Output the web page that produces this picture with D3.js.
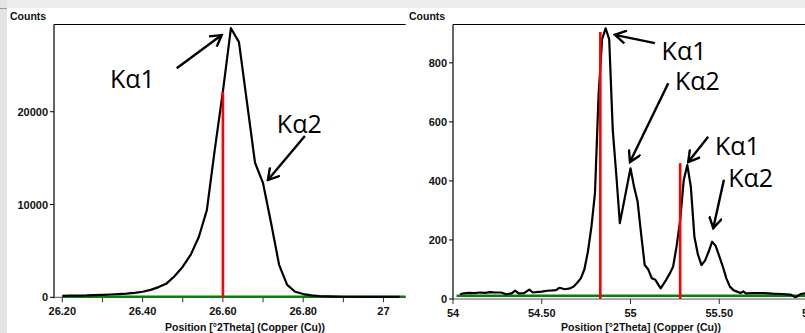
<!DOCTYPE html>
<html>
<head>
<meta charset="utf-8">
<script src="https://cdn.jsdelivr.net/npm/d3@7"></script>
<style>
  body { margin: 0; background: #fff; }
  svg { display: block; }
  .tick-label { font-family: "Liberation Sans", Arial, sans-serif; font-weight: bold; font-size: 11px; fill: #111; }
  .axis-title { font-family: "Liberation Sans", Arial, sans-serif; font-weight: bold; font-size: 10.5px; fill: #111; }
  .note { font-family: "Open Sans", "DejaVu Sans", sans-serif; font-size: 25px; fill: #000; }
</style>
</head>
<body>
<svg id="chart" width="805" height="333"></svg>
<script>
// left panel: 26.6 deg peak, [2theta, counts]
var leftPattern = [
    [26.20, 150], [26.22, 170], [26.24, 190], [26.26, 200], [26.28, 230], [26.30, 260],
    [26.32, 300], [26.34, 350], [26.36, 400], [26.38, 470], [26.40, 600], [26.42, 800],
    [26.44, 1100], [26.46, 1500], [26.48, 2300], [26.50, 3300], [26.52, 4600], [26.54, 6500],
    [26.56, 9400], [26.58, 16000], [26.60, 22200], [26.62, 29000], [26.64, 27500],
    [26.68, 14500], [26.70, 12300], [26.72, 8000], [26.74, 3500], [26.76, 1330],
    [26.78, 600], [26.80, 350], [26.82, 200], [26.84, 130], [26.86, 100], [26.88, 80],
    [26.90, 60], [26.95, 50], [27.00, 40], [27.04, 40]
];
var leftRefPos = [26.60];
var leftRefCounts = [22150];
var leftBackground = 60;
var leftTicks = [26.2, 26.3, 26.4, 26.5, 26.6, 26.7, 26.8, 26.9, 27.0];
var leftYTicks = [0, 10000, 20000];
var leftNotes = ["K\u03b11", "K\u03b12"];
var leftNoteTips = [[26.597, 28265], [26.712, 12640]];

// right panel: 54.8 / 55.3 deg doublets
var rightPattern = [
    [54.04, 16], [54.06, 19], [54.09, 21], [54.12, 20], [54.15, 22], [54.18, 21],
    [54.21, 23], [54.24, 22], [54.27, 22], [54.30, 16], [54.33, 19], [54.35, 28],
    [54.37, 19], [54.40, 20], [54.43, 32], [54.45, 22], [54.48, 24], [54.50, 25],
    [54.53, 28], [54.56, 29], [54.58, 30], [54.60, 38], [54.63, 33], [54.66, 36],
    [54.68, 42], [54.70, 55], [54.72, 70], [54.74, 100], [54.76, 160], [54.78, 245],
    [54.80, 360], [54.82, 690], [54.84, 880], [54.86, 917], [54.88, 880], [54.90, 573],
    [54.92, 420], [54.94, 257], [54.97, 350], [55.00, 443], [55.02, 380], [55.04, 330],
    [55.06, 220], [55.08, 115], [55.10, 100], [55.12, 70], [55.14, 65], [55.17, 36],
    [55.20, 64], [55.22, 85], [55.24, 109], [55.26, 180], [55.28, 268], [55.30, 403],
    [55.32, 454], [55.34, 380], [55.36, 211], [55.38, 150], [55.40, 115], [55.42, 130],
    [55.44, 160], [55.46, 194], [55.48, 180], [55.50, 145], [55.52, 110], [55.54, 70],
    [55.56, 42], [55.58, 30], [55.60, 25], [55.62, 20], [55.635, 26], [55.65, 19],
    [55.70, 20], [55.75, 20], [55.80, 18], [55.85, 17], [55.90, 15], [55.93, 6],
    [55.96, 17], [55.99, 20]
];
var rightRefPos = [54.83, 55.28];
var rightRefCounts = [905, 460];
var rightBackground = 11;
var rightTicks = [54, 54.5, 55, 55.5, 56];
var rightYTicks = [0, 200, 400, 600, 800];
var rightNotes = ["K\u03b11", "K\u03b12", "K\u03b11", "K\u03b12"];
var rightNoteTips = [[54.912, 895], [54.997, 464], [55.325, 464], [55.466, 240]];

var svg = d3.select('#chart');

// grey frame of the screenshot
svg.append('rect').attr('x', 0).attr('y', 0).attr('width', 805).attr('height', 333).attr('fill', '#fff');
svg.append('rect').attr('x', 0).attr('y', 0).attr('width', 805).attr('height', 8).attr('fill', '#ececec');
svg.append('rect').attr('x', 0).attr('y', 0).attr('width', 7).attr('height', 333).attr('fill', '#e4e4e4');
svg.append('line').attr('x1', 0).attr('x2', 7).attr('y1', 8.5).attr('y2', 8.5).attr('stroke', '#999');

var defs = svg.append('defs');
defs.append('marker')
    .attr('id', 'arrow')
    .attr('viewBox', '-12 -7 14 14')
    .attr('refX', 0).attr('refY', 0)
    .attr('markerWidth', 14).attr('markerHeight', 14)
    .attr('markerUnits', 'userSpaceOnUse')
    .attr('orient', 'auto')
    .append('path')
    .attr('d', 'M-11,-6.5 L0,0 L-11,6.5')
    .attr('fill', 'none')
    .attr('stroke', '#000')
    .attr('stroke-width', 2.4);

function tickText(d) {
    var r = Math.round(d * 100) / 100;
    return Number.isInteger(r) ? String(r) : r.toFixed(2);
}

function drawPanel(cfg) {
    var g = svg.append('g');
    var x = d3.scaleLinear().domain(cfg.xDomain).range(cfg.xRange);
    var y = d3.scaleLinear().domain(cfg.yDomain).range(cfg.yRange);
    var x0 = cfg.xRange[0], x1 = cfg.xRange[1];
    var yTop = cfg.yRange[1], yBot = cfg.yRange[0];

    g.append('text').attr('class', 'axis-title').attr('x', cfg.countsX).attr('y', 20).text('Counts');

    // frame: top + left
    g.append('line').attr('x1', x0).attr('x2', x1).attr('y1', yTop).attr('y2', yTop)
        .attr('stroke', '#000').attr('stroke-width', 1.2);
    g.append('line').attr('x1', x0).attr('x2', x0).attr('y1', yTop).attr('y2', yBot + 1)
        .attr('stroke', '#000').attr('stroke-width', 1.2);
    g.append('line').attr('x1', x0).attr('x2', x1).attr('y1', yBot).attr('y2', yBot)
        .attr('stroke', '#555').attr('stroke-width', 1);

    // y ticks
    cfg.yTicks.forEach(function (t) {
        g.append('line').attr('x1', x0 - 4).attr('x2', x0).attr('y1', y(t)).attr('y2', y(t))
            .attr('stroke', '#000');
        g.append('text').attr('class', 'tick-label').attr('x', x0 - 6).attr('y', y(t) + 4)
            .attr('text-anchor', 'end').text(t);
    });

    // x ticks
    cfg.xTicks.forEach(function (t, i) {
        g.append('line').attr('x1', x(t)).attr('x2', x(t)).attr('y1', yBot).attr('y2', yBot + 5)
            .attr('stroke', '#333');
        if (i % cfg.labelEvery === 0) {
            g.append('text').attr('class', 'tick-label').attr('x', x(t)).attr('y', yBot + 18)
                .attr('text-anchor', 'middle').text(tickText(t));
        }
    });

    g.append('text').attr('class', 'axis-title').attr('x', cfg.titleX).attr('y', 331)
        .attr('text-anchor', 'middle').text('Position [\u00b02Theta] (Copper (Cu))');

    // background (green)
    g.append('line').attr('x1', x(cfg.bgStart)).attr('x2', x1)
        .attr('y1', y(cfg.background)).attr('y2', y(cfg.background))
        .attr('stroke', '#0b7d0b').attr('stroke-width', 2.6);

    // pattern
    var line = d3.line().x(function (d) { return x(d[0]); }).y(function (d) { return y(d[1]); });
    g.append('path').datum(cfg.pattern).attr('d', line)
        .attr('fill', 'none').attr('stroke', '#000').attr('stroke-width', 2.2)
        .attr('stroke-linejoin', 'round');

    // reference sticks
    g.selectAll('.ref').data(cfg.refPos).enter().append('line')
        .attr('class', 'ref')
        .attr('x1', function (d) { return x(d); }).attr('x2', function (d) { return x(d); })
        .attr('y1', yBot).attr('y2', function (d, i) { return y(cfg.refCounts[i]); })
        .attr('stroke', '#f00').attr('stroke-width', 2.6);

    // notes with arrows
    cfg.notes.forEach(function (label, i) {
        var tx = x(cfg.noteTips[i][0]), ty = y(cfg.noteTips[i][1]);
        var o = cfg.noteOffsets[i];
        g.append('line').attr('x1', tx + o[0]).attr('y1', ty + o[1]).attr('x2', tx).attr('y2', ty)
            .attr('stroke', '#000').attr('stroke-width', 2.4).attr('marker-end', 'url(#arrow)');
        g.append('text').attr('class', 'note').attr('x', tx + o[2]).attr('y', ty + o[3]).text(label);
    });
}

drawPanel({
    xDomain: [26.1793, 27.0553], xRange: [54, 405.7],
    yDomain: [0, 29400], yRange: [297.3, 24.5],
    xTicks: leftTicks, labelEvery: 2, yTicks: leftYTicks,
    pattern: leftPattern, refPos: leftRefPos, refCounts: leftRefCounts,
    background: leftBackground, bgStart: 26.2,
    notes: leftNotes, noteTips: leftNoteTips,
    noteOffsets: [[-45, 33.3, -111.7, 53], [37, -44, 9, -47]],
    countsX: 10, titleX: 245
});

drawPanel({
    xDomain: [54, 56], xRange: [453, 808],
    yDomain: [0, 930], yRange: [299, 24.5],
    xTicks: rightTicks, labelEvery: 1, yTicks: rightYTicks,
    pattern: rightPattern, refPos: rightRefPos, refCounts: rightRefCounts,
    background: rightBackground, bgStart: 54.02,
    notes: rightNotes, noteTips: rightNoteTips,
    noteOffsets: [[40, 8.3, 46.7, 25], [38.3, -78.7, 45, -72], [20, -25.3, 26.7, -7], [10.7, -48.3, 15, -41]],
    countsX: 409, titleX: 641
});
</script>
</body>
</html>
